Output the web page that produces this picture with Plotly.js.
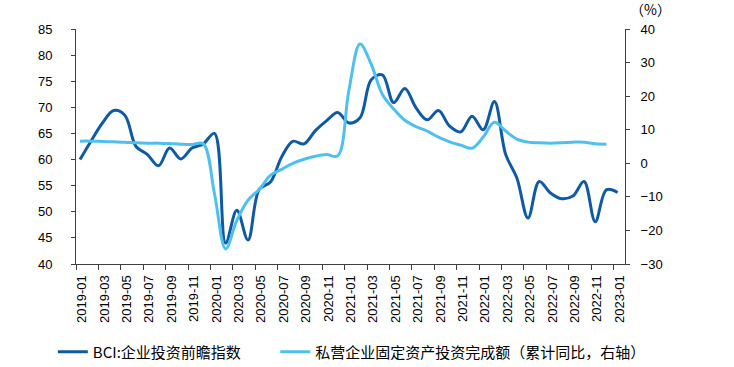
<!DOCTYPE html>
<html>
<head>
<meta charset="utf-8">
<script src="https://cdn.plot.ly/plotly-3.0.1.min.js"></script>
<style>html,body{margin:0;padding:0;background:#fff;}#chart{width:734px;height:367px;}</style>
</head>
<body>
<div id="chart"></div>
<script>
// ---- data ----
const months = ['2019-01','2019-02','2019-03','2019-04','2019-05','2019-06','2019-07','2019-08','2019-09','2019-10','2019-11','2019-12',
  '2020-01','2020-02','2020-03','2020-04','2020-05','2020-06','2020-07','2020-08','2020-09','2020-10','2020-11','2020-12',
  '2021-01','2021-02','2021-03','2021-04','2021-05','2021-06','2021-07','2021-08','2021-09','2021-10','2021-11','2021-12',
  '2022-01','2022-02','2022-03','2022-04','2022-05','2022-06','2022-07','2022-08','2022-09','2022-10','2022-11','2022-12',
  '2023-01'];
const bciInvest = [60.0,63.6,67.0,69.4,68.5,62.5,61.0,58.8,62.2,60.1,62.2,63.0,
  65.0,44.0,50.3,44.6,54.3,55.7,60.5,63.5,63.0,65.5,67.4,69.0,
  67.0,68.0,75.3,76.2,70.9,73.6,69.9,67.6,69.4,66.4,65.3,68.3,
  65.7,71.1,61.0,56.5,48.8,55.8,53.6,52.5,53.0,55.8,48.1,54.2,
  53.7];
const privateFAI = [6.6,6.6,6.5,6.4,6.3,6.1,6.0,6.0,5.9,5.7,5.6,5.8,
  -9.0,-25.5,-17.0,-11.0,-7.8,-3.6,-1.8,0.0,1.2,2.1,2.6,2.2,
  21.6,35.5,29.5,20.5,16.2,12.8,10.9,9.6,7.8,6.4,5.4,4.5,
  7.8,12.2,9.6,7.2,6.3,6.1,6.0,6.1,6.3,6.3,5.8,5.7];
const tickLabels = ['2019-01','2019-03','2019-05','2019-07','2019-09','2019-11','2020-01','2020-03','2020-05','2020-07','2020-09','2020-11',
  '2021-01','2021-03','2021-05','2021-07','2021-09','2021-11','2022-01','2022-03','2022-05','2022-07','2022-09','2022-11','2023-01'];
const seriesNames = ['BCI:企业投资前瞻指数','私营企业固定资产投资完成额（累计同比，右轴）'];

// ---- chart ----
const xShift = -0.36;
const idx = months.map((_, i) => i);
const traces = [
  {x: idx, y: bciInvest, name: seriesNames[0], type: 'scatter', mode: 'lines', legend: 'legend',
   line: {color: '#0F5AA3', width: 3, shape: 'spline', smoothing: 1}, yaxis: 'y'},
  {x: idx.slice(0, privateFAI.length), y: privateFAI, name: seriesNames[1], type: 'scatter', mode: 'lines', legend: 'legend2',
   line: {color: '#4FC0EE', width: 3, shape: 'spline', smoothing: 1}, yaxis: 'y2'}
];
const tickFont = {family: 'Liberation Sans, Arial, sans-serif', size: 13, color: '#000'};
const legendFont = {family: 'Noto Sans CJK SC, sans-serif', size: 15, color: '#000'};
const layout = {
  width: 734, height: 367,
  margin: {l: 76, r: 109, t: 29, b: 103, autoexpand: false},
  paper_bgcolor: '#fff', plot_bgcolor: '#fff',
  showlegend: true,
  legend: {orientation: 'h', xref: 'container', x: 0.072, xanchor: 'left',
    yref: 'container', y: 0.041, yanchor: 'middle', font: legendFont, bgcolor: 'rgba(0,0,0,0)'},
  legend2: {orientation: 'h', xref: 'container', x: 0.375, xanchor: 'left',
    yref: 'container', y: 0.041, yanchor: 'middle', font: legendFont, bgcolor: 'rgba(0,0,0,0)'},
  xaxis: {
    range: [xShift, 48.66],
    tickmode: 'array',
    tickvals: tickLabels.map(t => months.indexOf(t) + xShift),
    ticktext: tickLabels,
    tickangle: -90,
    ticks: 'outside', ticklen: 5, tickcolor: '#404040',
    showline: true, linecolor: '#404040', linewidth: 1,
    showgrid: false, zeroline: false,
    tickfont: tickFont, ticklabelshift: 6
  },
  yaxis: {
    range: [40, 85], dtick: 5, tick0: 40,
    ticks: 'outside', ticklen: 4, tickcolor: '#404040',
    showline: true, linecolor: '#404040', linewidth: 1,
    showgrid: false, zeroline: false,
    tickfont: tickFont, ticklabelstandoff: 16
  },
  yaxis2: {
    range: [-30, 40], dtick: 10, tick0: -30,
    overlaying: 'y', side: 'right',
    ticks: 'outside', ticklen: 4, tickcolor: '#404040',
    showline: true, linecolor: '#404040', linewidth: 1,
    showgrid: false, zeroline: false,
    tickfont: tickFont, ticklabelstandoff: 8
  },
  annotations: [{
    text: '（%）', xref: 'paper', yref: 'paper', x: 1.005, y: 1.0, xanchor: 'left', yanchor: 'bottom',
    yshift: 8, showarrow: false, font: {family: 'Noto Sans CJK SC, sans-serif', size: 14, color: '#000'}
  }]
};
Plotly.newPlot('chart', traces, layout, {displayModeBar: false, staticPlot: true});
</script>
</body>
</html>
